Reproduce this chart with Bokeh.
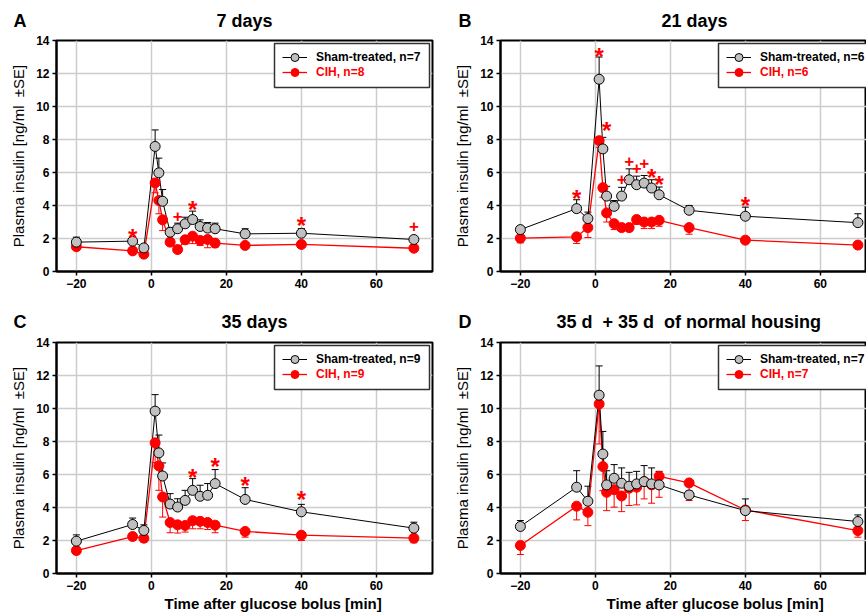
from bokeh.plotting import figure
from bokeh.models import (ColumnDataSource, Whisker, TeeHead, Legend, LegendItem,
                          BoxAnnotation, Title, FixedTicker, Range1d)
from bokeh.layouts import column, row
from bokeh.core.properties import value
from bokeh.embed import file_html
from bokeh.resources import INLINE

# ---------------- data ----------------
time_min = [-20, -5, -2, 1, 2, 3, 5, 7, 9, 11, 13, 15, 17, 25, 40, 70]
x_ticks = [-20, 0, 20, 40, 60]
y_ticks = [0, 2, 4, 6, 8, 10, 12, 14]

sham_7d = [1.78, 1.84, 1.43, 7.58, 5.98, 4.26, 2.38, 2.59, 2.89, 3.15, 2.73, 2.63, 2.59, 2.28, 2.32, 1.94]
sham_7d_se = [0.30, 0.10, 0.15, 1.00, 0.89, 0.71, 0.25, 0.34, 0.40, 0.51, 0.40, 0.34, 0.34, 0.31, 0.28, 0.10]
cih_7d = [1.50, 1.25, 1.05, 5.37, 4.30, 3.13, 1.78, 1.33, 1.92, 2.14, 1.88, 1.94, 1.72, 1.58, 1.64, 1.41]
cih_7d_se = [0.15, 0.12, 0.10, 0.60, 0.80, 0.65, 0.20, 0.15, 0.25, 0.45, 0.30, 0.50, 0.25, 0.12, 0.12, 0.12]

sham_21d = [2.54, 3.81, 3.21, 11.65, 7.43, 4.57, 3.95, 4.57, 5.56, 5.26, 5.36, 5.06, 4.65, 3.71, 3.35, 2.96]
sham_21d_se = [0.10, 0.54, 0.39, 1.35, 0.70, 0.59, 0.35, 0.53, 0.66, 0.52, 0.46, 0.50, 0.47, 0.29, 0.55, 0.54]
cih_21d = [2.02, 2.10, 2.66, 7.93, 5.08, 3.55, 2.90, 2.66, 2.66, 3.15, 3.00, 3.00, 3.10, 2.66, 1.90, 1.60]
cih_21d_se = [0.28, 0.40, 0.60, 0.40, 0.58, 0.55, 0.36, 0.12, 0.12, 0.29, 0.40, 0.40, 0.36, 0.40, 0.10, 0.12]

sham_35d = [1.96, 2.97, 2.61, 9.84, 7.31, 5.91, 4.21, 4.03, 4.43, 5.04, 4.68, 4.74, 5.45, 4.49, 3.74, 2.75]
sham_35d_se = [0.38, 0.39, 0.34, 1.00, 1.08, 0.79, 0.63, 0.50, 0.61, 0.71, 0.67, 0.71, 0.85, 0.71, 0.45, 0.36]
cih_35d = [1.39, 2.24, 2.14, 7.92, 6.52, 4.64, 3.09, 2.95, 2.91, 3.20, 3.16, 3.09, 2.93, 2.55, 2.32, 2.14]
cih_35d_se = [0.10, 0.10, 0.24, 1.20, 1.48, 1.22, 0.62, 0.50, 0.40, 0.49, 0.45, 0.42, 0.46, 0.35, 0.32, 0.28]

sham_70d = [2.85, 5.23, 4.38, 10.81, 7.24, 5.37, 5.77, 5.47, 5.29, 5.43, 5.57, 5.43, 5.37, 4.76, 3.81, 3.15]
sham_70d_se = [0.36, 1.00, 0.91, 1.77, 1.37, 0.86, 0.83, 0.93, 0.84, 0.76, 0.97, 0.97, 0.82, 0.24, 0.71, 0.40]
cih_70d = [1.70, 4.08, 3.71, 10.27, 6.48, 4.92, 5.08, 4.70, 5.17, 5.23, 5.57, 5.37, 5.89, 5.49, 3.85, 2.60]
cih_70d_se = [0.55, 0.83, 0.81, 2.42, 1.46, 1.11, 1.06, 0.95, 1.05, 1.07, 1.05, 1.11, 1.27, 1.07, 0.64, 0.40]

# significance marks (symbol positions)
sig_7d_x = [-5, 7, 11, 40, 70]
sig_7d_y = [2.5, 3.45, 4.2, 3.2, 2.8]
sig_7d_sym = ["*", "+", "*", "*", "+"]
sig_21d_x = [-5, 1, 3, 7, 9, 11, 13, 15, 17, 40]
sig_21d_y = [4.87, 13.46, 8.97, 5.68, 6.76, 6.32, 6.62, 6.12, 5.72, 4.41]
sig_21d_sym = ["*", "*", "*", "+", "+", "+", "+", "*", "*", "*"]
sig_35d_x = [11, 17, 25, 40]
sig_35d_y = [6.26, 6.9, 5.75, 4.92]
sig_35d_sym = ["*", "*", "*", "*"]
sig_70d_x = []
sig_70d_y = []
sig_70d_sym = []

NB = "\u00a0"
panel_letters = ["A", "B", "C", "D"]
panel_titles = ["7 days", "21 days", "35 days", "35 d" + NB + " + 35 d" + NB + " of normal housing"]
title_gap = [38, 38, 39, 17]          # spacing between panel letter and title
n_sham = [7, 6, 9, 7]
n_cih = [8, 6, 9, 7]
y_label = "Plasma insulin [ng/ml" + NB + " \u00b1SE]"
x_label = "Time after glucose bolus [min]"

FONT = "'Liberation Sans', Arial, sans-serif"
RED = "#ff0000"
GRAY = "#c0c0c0"


def make_panel(idx, sham, sham_se, cih, cih_se, sx, sy, ssym, left_col, top_row):
    width = 445 if left_col else 421
    height = 300 if top_row else 314
    mb_left = 56 if left_col else 55
    mb_right = 13 if left_col else 0
    mb_top = 40 if top_row else 42
    mb_bottom = 29 if top_row else 41
    fw = width - mb_left - mb_right
    fh = height - mb_top - mb_bottom
    x_end = -25.3 + fw / 3.75

    p = figure(width=width, height=height, output_backend="svg", toolbar_location=None,
               x_range=Range1d(-25.3, x_end), y_range=Range1d(0, 14),
               min_border_left=mb_left, min_border_right=mb_right,
               min_border_top=mb_top, min_border_bottom=mb_bottom,
               background_fill_color="white", border_fill_color="white")
    p.outline_line_color = "black"
    p.outline_line_width = 2

    # panel letter + title share one title line
    p.title.text = panel_letters[idx] + NB * title_gap[idx] + panel_titles[idx]
    p.title.align = "left"
    p.title.offset = -43 if left_col else -42
    p.title.vertical_align = "top"
    p.title.text_font = FONT
    p.title.text_font_size = "18px"
    p.title.text_font_style = "bold"
    p.title.text_color = "black"
    p.title.standoff = 15 if top_row else 17

    p.xaxis.ticker = FixedTicker(ticks=x_ticks)
    p.yaxis.ticker = FixedTicker(ticks=y_ticks)
    p.xgrid.ticker = FixedTicker(ticks=x_ticks)
    p.ygrid.ticker = FixedTicker(ticks=y_ticks)
    for g in (p.xgrid, p.ygrid):
        g.grid_line_color = "#cccccc"
        g.grid_line_width = 1.5
    for ax in (p.xaxis, p.yaxis):
        ax.axis_line_width = 2
        ax.axis_line_color = "black"
        ax.major_tick_line_width = 1.5
        ax.major_tick_out = 4
        ax.major_tick_in = 0
        ax.minor_tick_out = 0
        ax.minor_tick_in = 0
        ax.major_label_text_font = FONT
        ax.major_label_text_font_size = "12px"
        ax.major_label_text_font_style = "bold"
        ax.major_label_text_color = "black"
        ax.major_label_standoff = 3
    p.yaxis.axis_label = y_label
    p.yaxis.axis_label_text_font = FONT
    p.yaxis.axis_label_text_font_size = "15px"
    p.yaxis.axis_label_text_font_style = "normal"
    p.yaxis.axis_label_text_color = "black"
    p.yaxis.axis_label_standoff = 6

    if not top_row:
        target_left = (164 - 56) if left_col else (606 - 500)
        p.add_layout(Title(text=x_label, align="left", offset=target_left,
                           text_font=FONT, text_font_size="15px", text_color="black",
                           text_font_style="bold", standoff=0), "below")

    # error bars
    s_src = ColumnDataSource(dict(x=time_min, y=sham,
                                  up=[a + b for a, b in zip(sham, sham_se)]))
    c_src = ColumnDataSource(dict(x=time_min, y=cih,
                                  lo=[a - b for a, b in zip(cih, cih_se)]))
    p.add_layout(Whisker(base="x", lower="y", upper="up", source=s_src, dimension="height",
                         line_color="black", line_width=1,
                         upper_head=TeeHead(size=7, line_color="black", line_width=1),
                         lower_head=None, level="underlay"))
    p.add_layout(Whisker(base="x", lower="lo", upper="y", source=c_src, dimension="height",
                         line_color=RED, line_width=1,
                         lower_head=TeeHead(size=7, line_color=RED, line_width=1),
                         upper_head=None, level="underlay"))

    c_line = p.line("x", "y", source=c_src, line_color=RED, line_width=1.3)
    s_line = p.line("x", "y", source=s_src, line_color="black", line_width=1)
    c_sc = p.scatter("x", "y", source=c_src, size=10, fill_color=RED, line_color=RED, line_width=1)
    s_sc = p.scatter("x", "y", source=s_src, size=10, fill_color=GRAY, line_color="black", line_width=1)

    # significance marks
    st = [(a, b) for a, b, c in zip(sx, sy, ssym) if c == "*"]
    pl = [(a, b) for a, b, c in zip(sx, sy, ssym) if c == "+"]
    if st:
        p.text(x=[a for a, b in st], y=[b for a, b in st], text=["*"] * len(st),
               text_color=RED, text_font=value(FONT), text_font_style="bold",
               text_font_size="24px", text_align="center", text_baseline="middle", y_offset=7)
    if pl:
        p.text(x=[a for a, b in pl], y=[b for a, b in pl], text=["+"] * len(pl),
               text_color=RED, text_font=value(FONT), text_font_style="bold",
               text_font_size="17px", text_align="center", text_baseline="middle", y_offset=1)

    # legend box + two legends (different label colours)
    p.add_layout(BoxAnnotation(left=218, right=373, top=fh - 3, bottom=fh - 47,
                               left_units="screen", right_units="screen",
                               top_units="screen", bottom_units="screen",
                               fill_color="white", fill_alpha=1.0,
                               line_color="#333333", line_width=1.5, line_alpha=1.0))
    for label, rends, color, yb in (
            ("Sham-treated, n=%d" % n_sham[idx], [s_line, s_sc], "black", fh - 27),
            ("CIH, n=%d" % n_cih[idx], [c_line, c_sc], RED, fh - 42)):
        lg = Legend(items=[LegendItem(label=label, renderers=rends)], location=(226, yb),
                    margin=0, padding=0, spacing=0, glyph_width=25, glyph_height=20,
                    label_height=20, label_standoff=9,
                    label_text_font=FONT, label_text_font_size="12px",
                    label_text_font_style="bold", label_text_color=color,
                    border_line_alpha=0, background_fill_alpha=0)
        p.add_layout(lg)
    return p


pA = make_panel(0, sham_7d, sham_7d_se, cih_7d, cih_7d_se, sig_7d_x, sig_7d_y, sig_7d_sym, True, True)
pB = make_panel(1, sham_21d, sham_21d_se, cih_21d, cih_21d_se, sig_21d_x, sig_21d_y, sig_21d_sym, False, True)
pC = make_panel(2, sham_35d, sham_35d_se, cih_35d, cih_35d_se, sig_35d_x, sig_35d_y, sig_35d_sym, True, False)
pD = make_panel(3, sham_70d, sham_70d_se, cih_70d, cih_70d_se, sig_70d_x, sig_70d_y, sig_70d_sym, False, False)

layout = column(row(pA, pB, spacing=0), row(pC, pD, spacing=0), spacing=0)
open("out.html", "w").write(file_html(layout, INLINE))
